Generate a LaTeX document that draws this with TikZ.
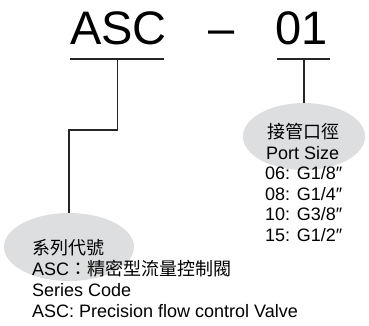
\documentclass[tikz,border=0pt]{standalone}
\usepackage{fontspec}
\setmainfont{Liberation Sans}
\newfontfamily\cjk{Noto Sans CJK TC}
\usetikzlibrary{shapes.geometric}
\definecolor{bubble}{RGB}{221,222,224}
\tikzset{
  bubblenode/.style={ellipse, fill=bubble, draw=none, inner sep=0pt},
  bigtext/.style={inner sep=0pt, anchor=base west, font=\fontsize{47}{50}\selectfont},
  infotext/.style={inner sep=0pt, anchor=base west, font=\fontsize{18}{20}\selectfont},
  conn/.style={line width=1.3pt, color=black!85}
}
\begin{document}
\begin{tikzpicture}[x=1pt,y=-1pt]
\useasboundingbox (0,0) rectangle (369,325);
% bubbles
\node[bubblenode, minimum width=130pt, minimum height=68pt] (el1) at (69,247) {};
\node[bubblenode, minimum width=122pt, minimum height=67pt] (el2) at (304,136.5) {};
% title
\node[bigtext] (asc) at (70,44) {ASC};
\node[bigtext, anchor=base] (dash) at (221.5,44) {–};
\node[bigtext] (num) at (275,44) {01};
% connectors
\coordinate (u1l) at (70,59);
\coordinate (u1r) at (164,59);
\coordinate (u1m) at (117.5,59);
\coordinate (bend) at (117.5,130);
\coordinate (u2l) at (277,59);
\coordinate (u2r) at (330,59);
\coordinate (u2m) at (304,59);
\draw[conn] (u1l) -- (u1r);
\draw[conn] (u1m) -- (bend) -| (el1.north);
\draw[conn] (u2l) -- (u2r);
\draw[conn] (u2m) -- (el2.north);
% right texts
\node[infotext] (r1) at (267,138.5) {\cjk 接管口徑};
\node[infotext] (r2) at (266,159) {Port Size};
\node[infotext] (r3) at (265,179.5) {06: G1/8″};
\node[infotext] (r4) at (265,200) {08: G1/4″};
\node[infotext] (r5) at (265,220.5) {10: G3/8″};
\node[infotext] (r6) at (265,241) {15: G1/2″};
% left texts
\node[infotext] (l1) at (32,254) {\cjk 系列代號};
\node[infotext] (l2) at (32,275) {ASC{\cjk ：精密型流量控制閥}};
\node[infotext] (l3) at (32,296) {Series Code};
\node[infotext] (l4) at (32,317) {ASC: Precision flow control Valve};
\end{tikzpicture}
\end{document}
